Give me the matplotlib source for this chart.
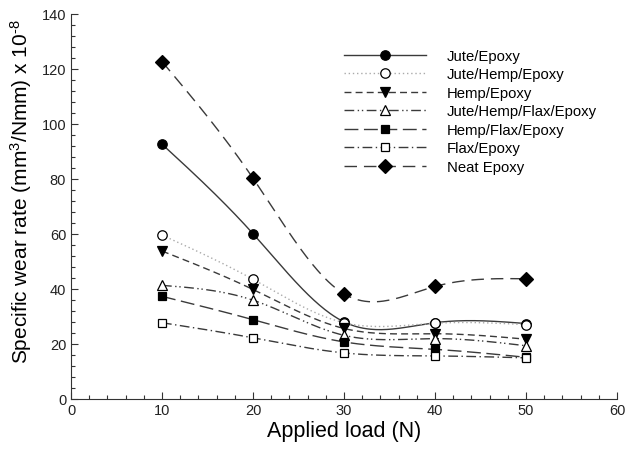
import matplotlib
matplotlib.use("Agg")
import matplotlib.pyplot as plt
import numpy as np
from matplotlib.ticker import MultipleLocator

plt.rcParams['font.family'] = ['Liberation Sans', 'DejaVu Sans']
plt.rcParams['mathtext.fontset'] = 'custom'
plt.rcParams['mathtext.rm'] = 'Liberation Sans'
plt.rcParams['mathtext.it'] = 'Liberation Sans:italic'

# data
loads = [10, 20, 30, 40, 50]
series_names = ['Jute/Epoxy', 'Jute/Hemp/Epoxy', 'Hemp/Epoxy', 'Jute/Hemp/Flax/Epoxy',
                'Hemp/Flax/Epoxy', 'Flax/Epoxy', 'Neat Epoxy']
jute = [92.6, 60.0, 27.9, 27.6, 27.3]
jute_hemp = [59.5, 43.4, 27.6, 27.4, 26.9]
hemp = [53.7, 39.7, 25.5, 23.6, 21.6]
jute_hemp_flax = [41.2, 35.8, 23.0, 21.8, 19.2]
hemp_flax = [37.2, 28.7, 20.6, 17.9, 15.0]
flax = [27.6, 22.1, 16.6, 15.5, 14.8]
neat = [122.7, 80.2, 38.1, 40.8, 43.6]


def natural_spline(x, y, n=200):
    """natural cubic spline through the points, only used to draw the smooth curve"""
    x = np.asarray(x, float)
    y = np.asarray(y, float)
    k = len(x)
    h = np.diff(x)
    A = np.zeros((k, k))
    b = np.zeros(k)
    A[0, 0] = A[-1, -1] = 1
    for i in range(1, k - 1):
        A[i, i - 1] = h[i - 1]
        A[i, i] = 2 * (h[i - 1] + h[i])
        A[i, i + 1] = h[i]
        b[i] = 6 * ((y[i + 1] - y[i]) / h[i] - (y[i] - y[i - 1]) / h[i - 1])
    M = np.linalg.solve(A, b)
    xs = np.linspace(x[0], x[-1], n)
    idx = np.clip(np.searchsorted(x, xs) - 1, 0, k - 2)
    x0, x1 = x[idx], x[idx + 1]
    hh = x1 - x0
    t0 = x1 - xs
    t1 = xs - x0
    ys = (M[idx] * t0 ** 3 + M[idx + 1] * t1 ** 3) / (6 * hh) \
        + (y[idx] / hh - M[idx] * hh / 6) * t0 + (y[idx + 1] / hh - M[idx + 1] * hh / 6) * t1
    return xs, ys


fig = plt.figure(figsize=(6.27, 4.52), dpi=100)
ax = fig.add_axes([71 / 627, 1 - 399.5 / 452, 546 / 627, 384.5 / 452])

line_col = '#3a3a3a'
styles = [
    dict(ls='-', marker='o', mfc='black', ms=6.8, color=line_col),
    dict(ls=(0, (1, 2)), marker='o', mfc='white', ms=6.8, color='#aaaaaa'),
    dict(ls=(0, (5, 3)), marker='v', mfc='black', ms=7.2, color=line_col),
    dict(ls=(0, (7, 2.5, 1, 2, 1, 2.5)), marker='^', mfc='white', ms=7.2, color=line_col),
    dict(ls=(0, (10, 4)), marker='s', mfc='black', ms=6.2, color=line_col),
    dict(ls=(0, (7, 2.5, 1, 2.5)), marker='s', mfc='white', ms=6.2, color=line_col),
    dict(ls=(0, (9, 5)), marker='D', mfc='black', ms=6.8, color=line_col),
]
all_series = [jute, jute_hemp, hemp, jute_hemp_flax, hemp_flax, flax, neat]

for name, vals, st in zip(series_names, all_series, styles):
    xs, ys = natural_spline(loads, vals)
    ax.plot(xs, ys, linestyle=st['ls'], color=st['color'], lw=1.0, zorder=2)
    ax.plot(loads, vals, linestyle='none', marker=st['marker'], mfc=st['mfc'],
            mec='black', mew=0.9, ms=st['ms'], zorder=3)
    # proxy for the legend
    ax.plot([], [], linestyle=st['ls'], color=st['color'], lw=1.0, marker=st['marker'],
            mfc=st['mfc'], mec='black', mew=0.9, ms=st['ms'], label=name)

ax.set_xlim(0, 60)
ax.set_ylim(0, 140)
ax.xaxis.set_major_locator(MultipleLocator(10))
ax.xaxis.set_minor_locator(MultipleLocator(2))
ax.yaxis.set_major_locator(MultipleLocator(20))
ax.yaxis.set_minor_locator(MultipleLocator(4))
ax.tick_params(which='both', direction='in', colors='#333333', labelsize=10.5,
               labelcolor='#222222', width=0.8)
ax.tick_params(which='major', length=5)
ax.tick_params(which='minor', length=3)
for side in ['top', 'right']:
    ax.spines[side].set_visible(False)
for side in ['left', 'bottom']:
    ax.spines[side].set_linewidth(0.8)
    ax.spines[side].set_color('#333333')

ax.set_xlabel('Applied load (N)', fontsize=15.5, labelpad=2)
ax.set_ylabel(r'Specific wear rate (mm$^{3}$/Nmm) x 10$^{\text{-8}}$', fontsize=15)
ax.yaxis.set_label_coords(-0.068, 0.541)

ax.legend(loc='upper left', bbox_to_anchor=(344 / 627, 1 - 50 / 452),
          bbox_transform=fig.transFigure, frameon=False, fontsize=10.7,
          handlelength=5.5, handletextpad=1.4, labelspacing=0.3, borderpad=0,
          borderaxespad=0, numpoints=1)

fig.savefig('out.png', dpi=100)
